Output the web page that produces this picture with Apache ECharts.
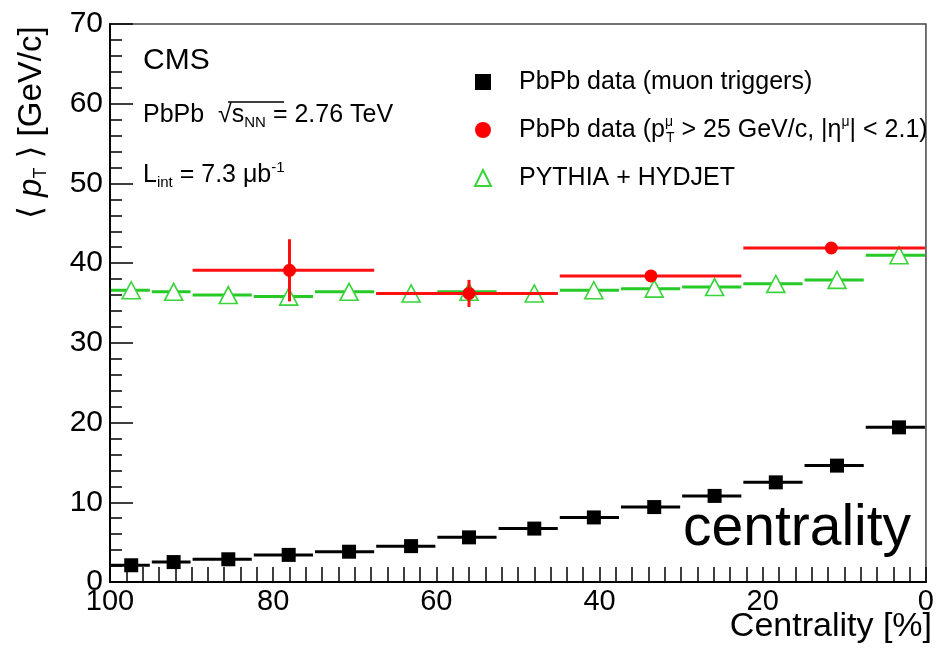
<!DOCTYPE html>
<html>
<head>
<meta charset="utf-8">
<script src="https://cdn.jsdelivr.net/npm/echarts@6/dist/echarts.min.js"></script>
<style>
html,body{margin:0;padding:0;background:#fff;}
#chart{width:937px;height:648px;}
</style>
</head>
<body>
<div id="chart"></div>
<script>
// ---------------- data ----------------
const FONT = "'Liberation Sans', Arial, Helvetica, 'DejaVu Sans', sans-serif";

// centrality bins (%) for muon-trigger data and PYTHIA+HYDJET
const binLo = [95, 90, 82.5, 75, 67.5, 60, 52.5, 45, 37.5, 30, 22.5, 15, 7.5, 0];
const binHi = [100, 95, 90, 82.5, 75, 67.5, 60, 52.5, 45, 37.5, 30, 22.5, 15, 7.5];
const binX  = [97.4, 92.2, 85.5, 78.1, 70.7, 63.1, 56.0, 48.0, 40.7, 33.3, 25.9, 18.4, 10.9, 3.3];

// <pT> values [GeV/c]
const muonTrigMeanPt    = [2.1, 2.5, 2.85, 3.4, 3.8, 4.5, 5.6, 6.7, 8.1, 9.4, 10.8, 12.5, 14.6, 19.4];
const pythiaHydjetMeanPt = [36.6, 36.4, 36.0, 35.8, 36.4, 36.2, 36.4, 36.2, 36.6, 36.8, 37.0, 37.4, 37.9, 41.0];

// high-pT muon selection
const highPtBinLo  = [67.5, 45, 22.5, 0];
const highPtBinHi  = [90, 67.5, 45, 22.5];
const highPtX      = [78.0, 56.0, 33.7, 11.6];
const highPtMeanPt = [39.1, 36.2, 38.4, 41.9];
const highPtErr    = [3.9, 1.7, 0.4, 0.4];

// axes
const xMin = 0, xMax = 100, xStep = 20;
const yMin = 0, yMax = 70, yStep = 10;

const seriesNames = [
  'PbPb data (muon triggers)',
  'PbPb data (pT mu > 25 GeV/c, |eta mu| < 2.1)',
  'PYTHIA + HYDJET'
];

// ---------------- helpers ----------------
function hbarData(lo, hi, y) { return y.map((v, i) => [lo[i], hi[i], v]); }
function hbarSeries(name, data, color, z) {
  return {
    type: 'custom', name: name, z: z, silent: true,
    data: data,
    encode: { x: [0, 1], y: 2 },
    renderItem: function (params, api) {
      const a = api.coord([api.value(0), api.value(2)]);
      const b = api.coord([api.value(1), api.value(2)]);
      const x1 = Math.min(a[0], b[0]) + 1, x2 = Math.max(a[0], b[0]) - 1;
      return { type: 'line', shape: { x1: x1, y1: a[1], x2: x2, y2: a[1] },
               style: { stroke: color, lineWidth: 3 } };
    }
  };
}

const GREEN = '#27c927';
const chart = echarts.init(document.getElementById('chart'), null, { renderer: 'canvas' });

const option = {
  animation: false,
  backgroundColor: '#fff',
  grid: { left: 110, right: 8, top: 24, bottom: 66, show: true, borderColor: '#444', borderWidth: 1.5, backgroundColor: 'transparent' },
  xAxis: {
    type: 'value', min: xMin, max: xMax, interval: xStep, inverse: true, position: 'bottom',
    axisLine: { onZero: false, lineStyle: { color: '#000', width: 2 } },
    axisTick: { inside: true, length: 15, lineStyle: { color: '#000', width: 1.5 } },
    minorTick: { show: true, splitNumber: 10, length: 15, lineStyle: { color: '#000', width: 1.5 } },
    splitLine: { show: false },
    axisLabel: { fontSize: 29, fontFamily: FONT, color: '#000', margin: 5 }
  },
  yAxis: {
    type: 'value', min: yMin, max: yMax, interval: yStep, position: 'left',
    axisLine: { show: true, onZero: false, lineStyle: { color: '#000', width: 2 } },
    axisTick: { show: true, inside: true, length: 23, lineStyle: { color: '#000', width: 1.5 } },
    minorTick: { show: true, splitNumber: 5, length: 12, lineStyle: { color: '#000', width: 1.5 } },
    splitLine: { show: false },
    axisLabel: { fontSize: 30, fontFamily: FONT, color: '#000', margin: 7 }
  },
  legend: {
    orient: 'vertical', left: 469, top: 62,
    itemWidth: 16, itemHeight: 16, itemGap: 18,
    selectedMode: false,
    data: seriesNames,
    formatter: function (name) {
      if (name === seriesNames[1]) {
        return 'PbPb data (p{supz|μ}{sub|T} > 25 GeV/c, |η{sup|μ}| < 2.1)';
      }
      return name;
    },
    textStyle: {
      fontSize: 25, fontFamily: FONT, color: '#000', lineHeight: 30, padding: [0, 0, 0, 23],
      rich: {
        sup:  { fontSize: 14, lineHeight: 14, verticalAlign: 'top', fontFamily: FONT, color: '#000' },
        supz: { fontSize: 14, lineHeight: 14, verticalAlign: 'top', fontFamily: FONT, color: '#000', width: 1 },
        sub:  { fontSize: 14, lineHeight: 14, verticalAlign: 'bottom', fontFamily: FONT, color: '#000' }
      }
    }
  },
  series: [
    hbarSeries('pythia-bins', hbarData(binLo, binHi, pythiaHydjetMeanPt), GREEN, 1),
    {
      type: 'scatter', name: seriesNames[2], z: 2,
      data: binX.map((x, i) => [x, pythiaHydjetMeanPt[i]]),
      symbol: 'triangle', symbolSize: [18, 17],
      itemStyle: { color: '#fff', borderColor: '#3ad43a', borderWidth: 1.6, opacity: 1 }
    },
    hbarSeries('highpt-bins', hbarData(highPtBinLo, highPtBinHi, highPtMeanPt), '#ff1010', 3),
    {
      type: 'custom', name: 'highpt-err', z: 3, silent: true,
      data: highPtX.map((x, i) => [x, highPtMeanPt[i] - highPtErr[i], highPtMeanPt[i] + highPtErr[i]]),
      encode: { x: 0, y: [1, 2] },
      renderItem: function (params, api) {
        const a = api.coord([api.value(0), api.value(1)]);
        const b = api.coord([api.value(0), api.value(2)]);
        return { type: 'line', shape: { x1: a[0], y1: a[1], x2: b[0], y2: b[1] },
                 style: { stroke: '#ff1010', lineWidth: 3 } };
      }
    },
    {
      type: 'scatter', name: seriesNames[1], z: 4,
      data: highPtX.map((x, i) => [x, highPtMeanPt[i]]),
      symbol: 'circle', symbolSize: 13,
      itemStyle: { color: '#ff0000', opacity: 1 }
    },
    hbarSeries('muon-bins', hbarData(binLo, binHi, muonTrigMeanPt), '#000', 5),
    {
      type: 'scatter', name: seriesNames[0], z: 6,
      data: binX.map((x, i) => [x, muonTrigMeanPt[i]]),
      symbol: 'rect', symbolSize: 14,
      itemStyle: { color: '#000', opacity: 1 }
    }
  ],
  graphic: [
    { type: 'text', x: 143, y: 61, silent: true,
      style: { text: 'CMS', fontSize: 30, fontFamily: FONT, fill: '#000', align: 'left', verticalAlign: 'middle' } },
    { type: 'text', x: 143, y: 115, silent: true,
      style: { text: 'PbPb  √s{sub|NN} = 2.76 TeV', fontSize: 25, fontFamily: FONT, fill: '#000', align: 'left', verticalAlign: 'middle',
               lineHeight: 30,
               rich: { sub: { fontSize: 15, lineHeight: 14, verticalAlign: 'bottom', fontFamily: FONT, fill: '#000' } } } },
    { type: 'line', silent: true, shape: { x1: 228, y1: 102, x2: 284, y2: 102 }, style: { stroke: '#000', lineWidth: 1.5 } },
    { type: 'text', x: 143, y: 175, silent: true,
      style: { text: 'L{sub|int} = 7.3 μb{sup|-1}', fontSize: 25, fontFamily: FONT, fill: '#000', align: 'left', verticalAlign: 'middle',
               lineHeight: 30,
               rich: { sub: { fontSize: 15, lineHeight: 14, verticalAlign: 'bottom', fontFamily: FONT, fill: '#000' },
                       sup: { fontSize: 15, lineHeight: 14, verticalAlign: 'top', fontFamily: FONT, fill: '#000' } } } },
    { type: 'text', x: 32, y: 219, rotation: Math.PI / 2, silent: true,
      style: { text: '⟨ {it|p}{sub|T} ⟩ [GeV/c]', fontSize: 33, fontFamily: FONT, fill: '#000', align: 'left', verticalAlign: 'middle',
               lineHeight: 36,
               rich: { it: { fontSize: 33, fontStyle: 'italic', fontFamily: FONT, fill: '#000', lineHeight: 36 },
                       sub: { fontSize: 18, lineHeight: 17, verticalAlign: 'bottom', fontFamily: FONT, fill: '#000' } } } },
    { type: 'text', x: 932, y: 627, silent: true,
      style: { text: 'Centrality [%]', fontSize: 34, fontFamily: FONT, fill: '#000', align: 'right', verticalAlign: 'middle' } },
    { type: 'text', x: 683, y: 529, silent: true,
      style: { text: 'centrality', fontSize: 57, fontFamily: FONT, fill: '#000', align: 'left', verticalAlign: 'middle' } }
  ]
};
chart.setOption(option);
</script>
</body>
</html>
